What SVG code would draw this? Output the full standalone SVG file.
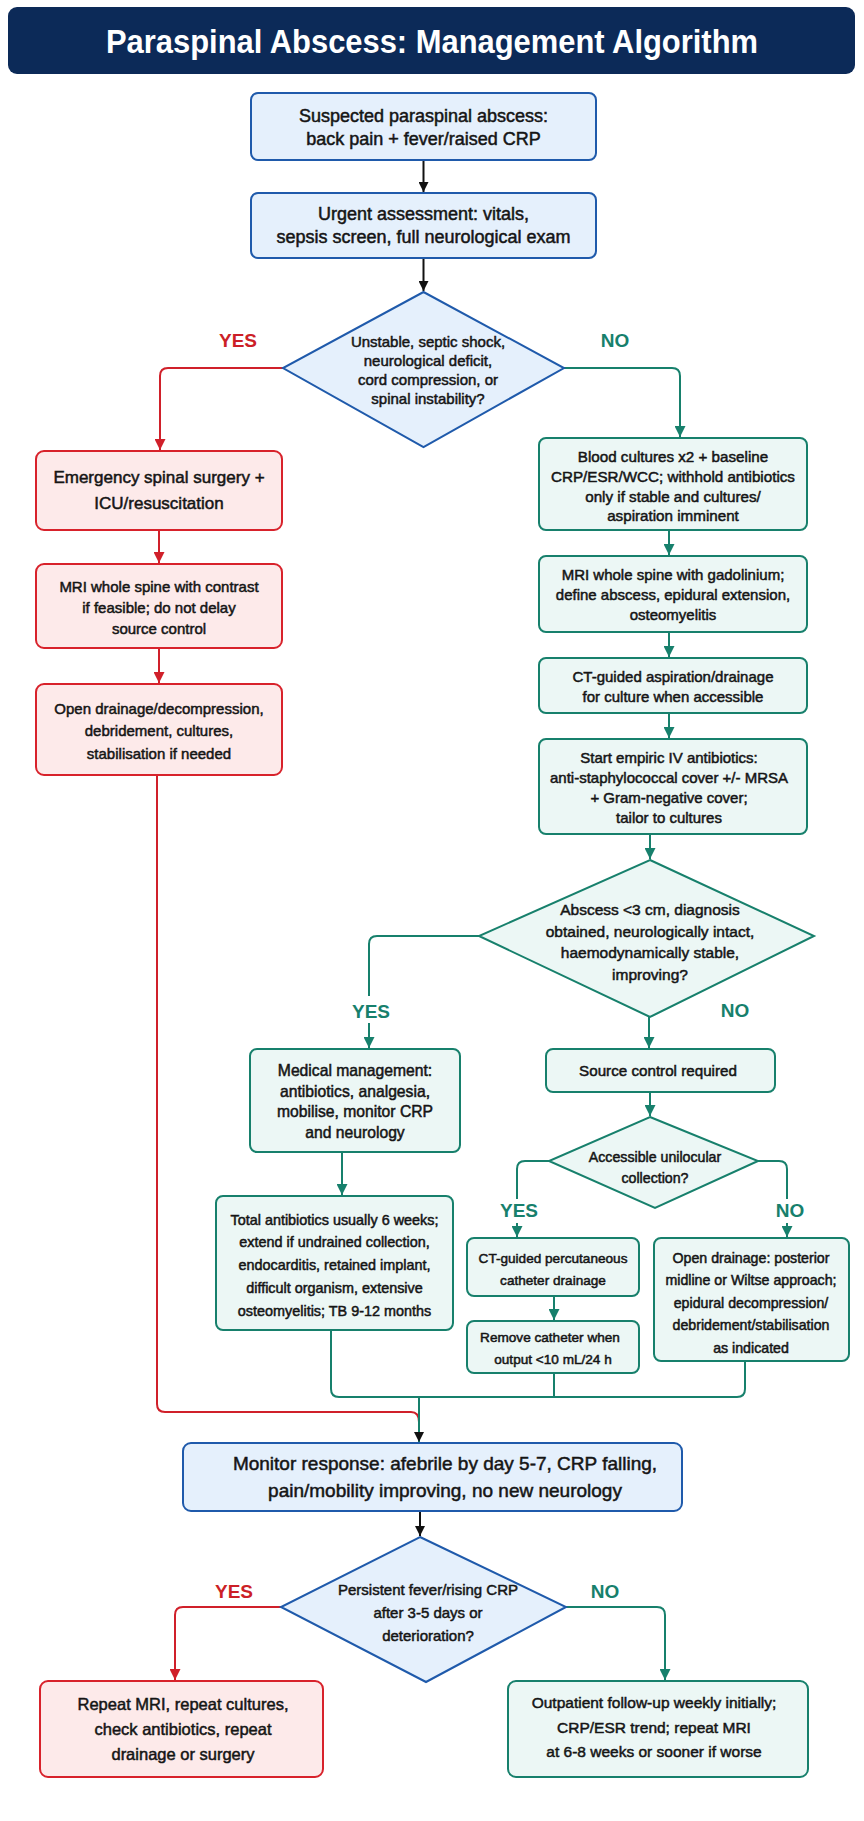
<svg xmlns="http://www.w3.org/2000/svg" width="864" height="1821" viewBox="0 0 864 1821">
<defs>
<marker id="ab" viewBox="0 0 10 10" refX="10" refY="5" markerWidth="10" markerHeight="10" markerUnits="userSpaceOnUse" orient="auto"><path d="M0,0 L10,5 L0,10 z" fill="#111"/></marker>
<marker id="ar" viewBox="0 0 10 10" refX="10" refY="5" markerWidth="11" markerHeight="11" markerUnits="userSpaceOnUse" orient="auto"><path d="M0,0 L10,5 L0,10 z" fill="#d0202a"/></marker>
<marker id="ag" viewBox="0 0 10 10" refX="10" refY="5" markerWidth="11" markerHeight="11" markerUnits="userSpaceOnUse" orient="auto"><path d="M0,0 L10,5 L0,10 z" fill="#17806c"/></marker>
</defs>
<style>
.bl{fill:#e5f0fc;stroke:#1f5aab;stroke-width:2}
.rd{fill:#fdeaea;stroke:#d8222b;stroke-width:2}
.gr{fill:#ecf7f5;stroke:#17806c;stroke-width:2}
.t{font-family:"Liberation Sans",Arial,sans-serif;fill:#151515;stroke:#151515;stroke-width:0.5;text-anchor:middle}
.lab{font-family:"Liberation Sans",Arial,sans-serif;font-weight:bold;font-size:19px;text-anchor:middle}
.ly{fill:#cc1f27}
.ln{fill:#17806c}
.cb{fill:none;stroke:#111;stroke-width:2}
.cr{fill:none;stroke:#d0202a;stroke-width:2}
.cg{fill:none;stroke:#17806c;stroke-width:2}
</style>
<rect width="864" height="1821" fill="#ffffff"/>
<g id="title">
<rect x="8" y="7" width="847" height="67" rx="9" fill="#0c2a58"/>
<text x="432" y="53" font-family="Liberation Sans,Arial,sans-serif" font-weight="bold" font-size="33" fill="#ffffff" text-anchor="middle" textLength="652" lengthAdjust="spacingAndGlyphs">Paraspinal Abscess: Management Algorithm</text>
</g>
<g id="connectors">
<path class="cb" d="M423.5,160 V192" marker-end="url(#ab)"/>
<path class="cb" d="M423.5,258 V291" marker-end="url(#ab)"/>
<path class="cr" d="M283,368 H168 Q160,368 160,376 V450" marker-end="url(#ar)"/>
<path class="cr" d="M159,530 V563" marker-end="url(#ar)"/>
<path class="cr" d="M159,648 V683" marker-end="url(#ar)"/>
<path class="cr" d="M157,775 V1404 Q157,1412 165,1412 H411 Q419,1412 419,1422"/>
<path class="cg" d="M564,368 H672 Q680,368 680,376 V437" marker-end="url(#ag)"/>
<path class="cg" d="M669,530 V555" marker-end="url(#ag)"/>
<path class="cg" d="M669,632 V657" marker-end="url(#ag)"/>
<path class="cg" d="M669,713 V738" marker-end="url(#ag)"/>
<path class="cg" d="M650,834 V859" marker-end="url(#ag)"/>
<path class="cg" d="M479,936 H377 Q369,936 369,944 V996"/>
<path class="cg" d="M369,1023 V1048" marker-end="url(#ag)"/>
<path class="cg" d="M649,1017 V1048" marker-end="url(#ag)"/>
<path class="cg" d="M342,1152 V1195" marker-end="url(#ag)"/>
<path class="cg" d="M650,1092 V1116" marker-end="url(#ag)"/>
<path class="cg" d="M549,1161 H525 Q517,1161 517,1169 V1199"/>
<path class="cg" d="M517,1223 V1237" marker-end="url(#ag)"/>
<path class="cg" d="M758,1161 H779 Q787,1161 787,1169 V1199"/>
<path class="cg" d="M787,1223 V1237" marker-end="url(#ag)"/>
<path class="cg" d="M554,1296 V1320" marker-end="url(#ag)"/>
<path class="cg" d="M331,1330 V1389 Q331,1397 339,1397 H737 Q745,1397 745,1389 V1361"/>
<path class="cg" d="M554,1373 V1397"/>
<path class="cg" d="M419,1397 V1442" marker-end="url(#ab)"/>
<path class="cb" d="M420,1511 V1536" marker-end="url(#ab)"/>
<path class="cr" d="M281,1607 H183 Q175,1607 175,1615 V1680" marker-end="url(#ar)"/>
<path class="cg" d="M566,1607 H657 Q665,1607 665,1615 V1680" marker-end="url(#ag)"/>
<text class="lab ly" x="238" y="347">YES</text>
<text class="lab ln" x="615" y="347">NO</text>
<text class="lab ln" x="371" y="1018">YES</text>
<text class="lab ln" x="735" y="1017">NO</text>
<text class="lab ln" x="519" y="1217">YES</text>
<text class="lab ln" x="790" y="1217">NO</text>
<text class="lab ly" x="234" y="1598">YES</text>
<text class="lab ln" x="605" y="1598">NO</text>
</g>
<g id="n1">
<rect class="bl" x="251" y="93" width="345" height="67" rx="7"/>
<text class="t" font-size="18" x="423.5" y="122">Suspected paraspinal abscess:</text>
<text class="t" font-size="18" x="423.5" y="145">back pain + fever/raised CRP</text>
</g>
<g id="n2">
<rect class="bl" x="251" y="193" width="345" height="65" rx="7"/>
<text class="t" font-size="18" x="423.5" y="220">Urgent assessment: vitals,</text>
<text class="t" font-size="18" x="423.5" y="243">sepsis screen, full neurological exam</text>
</g>
<g id="d1">
<polygon class="bl" points="423.5,292 564,368 423.5,447 283,368"/>
<text class="t" font-size="15" x="428" y="347">Unstable, septic shock,</text>
<text class="t" font-size="15" x="428" y="366">neurological deficit,</text>
<text class="t" font-size="15" x="428" y="385">cord compression, or</text>
<text class="t" font-size="15" x="428" y="404">spinal instability?</text>
</g>
<g id="r1">
<rect class="rd" x="36" y="451" width="246" height="79" rx="8"/>
<text class="t" font-size="17" x="159" y="483">Emergency spinal surgery +</text>
<text class="t" font-size="17" x="159" y="509">ICU/resuscitation</text>
</g>
<g id="r2">
<rect class="rd" x="36" y="564" width="246" height="84" rx="8"/>
<text class="t" font-size="15" x="159" y="592">MRI whole spine with contrast</text>
<text class="t" font-size="15" x="159" y="613">if feasible; do not delay</text>
<text class="t" font-size="15" x="159" y="634">source control</text>
</g>
<g id="r3">
<rect class="rd" x="36" y="684" width="246" height="91" rx="8"/>
<text class="t" font-size="15" x="159" y="714">Open drainage/decompression,</text>
<text class="t" font-size="15" x="159" y="736">debridement, cultures,</text>
<text class="t" font-size="15" x="159" y="759">stabilisation if needed</text>
</g>
<g id="g1">
<rect class="gr" x="539" y="438" width="268" height="92" rx="7"/>
<text class="t" font-size="15.2" x="673" y="462">Blood cultures x2 + baseline</text>
<text class="t" font-size="15.2" x="673" y="482">CRP/ESR/WCC; withhold antibiotics</text>
<text class="t" font-size="15.2" x="673" y="502">only if stable and cultures/</text>
<text class="t" font-size="15.2" x="673" y="521">aspiration imminent</text>
</g>
<g id="g2">
<rect class="gr" x="539" y="556" width="268" height="76" rx="7"/>
<text class="t" font-size="15" x="673" y="580">MRI whole spine with gadolinium;</text>
<text class="t" font-size="15" x="673" y="600">define abscess, epidural extension,</text>
<text class="t" font-size="15" x="673" y="620">osteomyelitis</text>
</g>
<g id="g3">
<rect class="gr" x="539" y="658" width="268" height="55" rx="7"/>
<text class="t" font-size="15" x="673" y="682">CT-guided aspiration/drainage</text>
<text class="t" font-size="15" x="673" y="702">for culture when accessible</text>
</g>
<g id="g4">
<rect class="gr" x="539" y="739" width="268" height="95" rx="7"/>
<text class="t" font-size="15" x="669" y="763">Start empiric IV antibiotics:</text>
<text class="t" font-size="15" x="669" y="783">anti-staphylococcal cover +/- MRSA</text>
<text class="t" font-size="15" x="669" y="803">+ Gram-negative cover;</text>
<text class="t" font-size="15" x="669" y="823">tailor to cultures</text>
</g>
<g id="d2">
<polygon class="gr" points="650,860 814,936 650,1017 479,936"/>
<text class="t" font-size="15.5" x="650" y="915">Abscess &lt;3 cm, diagnosis</text>
<text class="t" font-size="15.5" x="650" y="937">obtained, neurologically intact,</text>
<text class="t" font-size="15.5" x="650" y="958">haemodynamically stable,</text>
<text class="t" font-size="15.5" x="650" y="980">improving?</text>
</g>
<g id="g5">
<rect class="gr" x="250" y="1049" width="210" height="103" rx="7"/>
<text class="t" font-size="15.7" x="355" y="1076">Medical management:</text>
<text class="t" font-size="15.7" x="355" y="1097">antibiotics, analgesia,</text>
<text class="t" font-size="15.7" x="355" y="1117">mobilise, monitor CRP</text>
<text class="t" font-size="15.7" x="355" y="1138">and neurology</text>
</g>
<g id="g6">
<rect class="gr" x="216" y="1196" width="237" height="134" rx="7"/>
<text class="t" font-size="14.4" x="334.5" y="1225">Total antibiotics usually 6 weeks;</text>
<text class="t" font-size="14.4" x="334.5" y="1247">extend if undrained collection,</text>
<text class="t" font-size="14.4" x="334.5" y="1270">endocarditis, retained implant,</text>
<text class="t" font-size="14.4" x="334.5" y="1293">difficult organism, extensive</text>
<text class="t" font-size="14.4" x="334.5" y="1316">osteomyelitis; TB 9-12 months</text>
</g>
<g id="g7">
<rect class="gr" x="546" y="1049" width="229" height="43" rx="7"/>
<text class="t" font-size="15.2" x="658" y="1076">Source control required</text>
</g>
<g id="d3">
<polygon class="gr" points="650,1117 758,1161 655,1208 549,1161"/>
<text class="t" font-size="14.2" x="655" y="1162">Accessible unilocular</text>
<text class="t" font-size="14.2" x="655" y="1183">collection?</text>
</g>
<g id="g8">
<rect class="gr" x="467" y="1238" width="172" height="58" rx="7"/>
<text class="t" font-size="13.6" x="553" y="1263">CT-guided percutaneous</text>
<text class="t" font-size="13.6" x="553" y="1285">catheter drainage</text>
</g>
<g id="g9">
<rect class="gr" x="467" y="1321" width="172" height="52" rx="7"/>
<text class="t" font-size="13.6" x="550" y="1342">Remove catheter when</text>
<text class="t" font-size="13.6" x="553" y="1364">output &lt;10 mL/24 h</text>
</g>
<g id="g10">
<rect class="gr" x="654" y="1238" width="195" height="123" rx="7"/>
<text class="t" font-size="14.2" x="751" y="1263">Open drainage: posterior</text>
<text class="t" font-size="14.2" x="751" y="1285">midline or Wiltse approach;</text>
<text class="t" font-size="14.2" x="751" y="1308">epidural decompression/</text>
<text class="t" font-size="14.2" x="751" y="1330">debridement/stabilisation</text>
<text class="t" font-size="14.2" x="751" y="1353">as indicated</text>
</g>
<g id="n3">
<rect class="bl" x="183" y="1443" width="499" height="68" rx="8"/>
<text class="t" font-size="19" x="445" y="1470">Monitor response: afebrile by day 5-7, CRP falling,</text>
<text class="t" font-size="19" x="445" y="1497">pain/mobility improving, no new neurology</text>
</g>
<g id="d4">
<polygon class="bl" points="420,1537 566,1607 426,1682 281,1607"/>
<text class="t" font-size="15" x="428" y="1595">Persistent fever/rising CRP</text>
<text class="t" font-size="15" x="428" y="1618">after 3-5 days or</text>
<text class="t" font-size="15" x="428" y="1641">deterioration?</text>
</g>
<g id="r4">
<rect class="rd" x="40" y="1681" width="283" height="96" rx="8"/>
<text class="t" font-size="16.5" x="183" y="1710">Repeat MRI, repeat cultures,</text>
<text class="t" font-size="16.5" x="183" y="1735">check antibiotics, repeat</text>
<text class="t" font-size="16.5" x="183" y="1760">drainage or surgery</text>
</g>
<g id="g11">
<rect class="gr" x="508" y="1681" width="300" height="96" rx="8"/>
<text class="t" font-size="15.5" x="654" y="1708">Outpatient follow-up weekly initially;</text>
<text class="t" font-size="15.5" x="654" y="1733">CRP/ESR trend; repeat MRI</text>
<text class="t" font-size="15.5" x="654" y="1757">at 6-8 weeks or sooner if worse</text>
</g>
</svg>
